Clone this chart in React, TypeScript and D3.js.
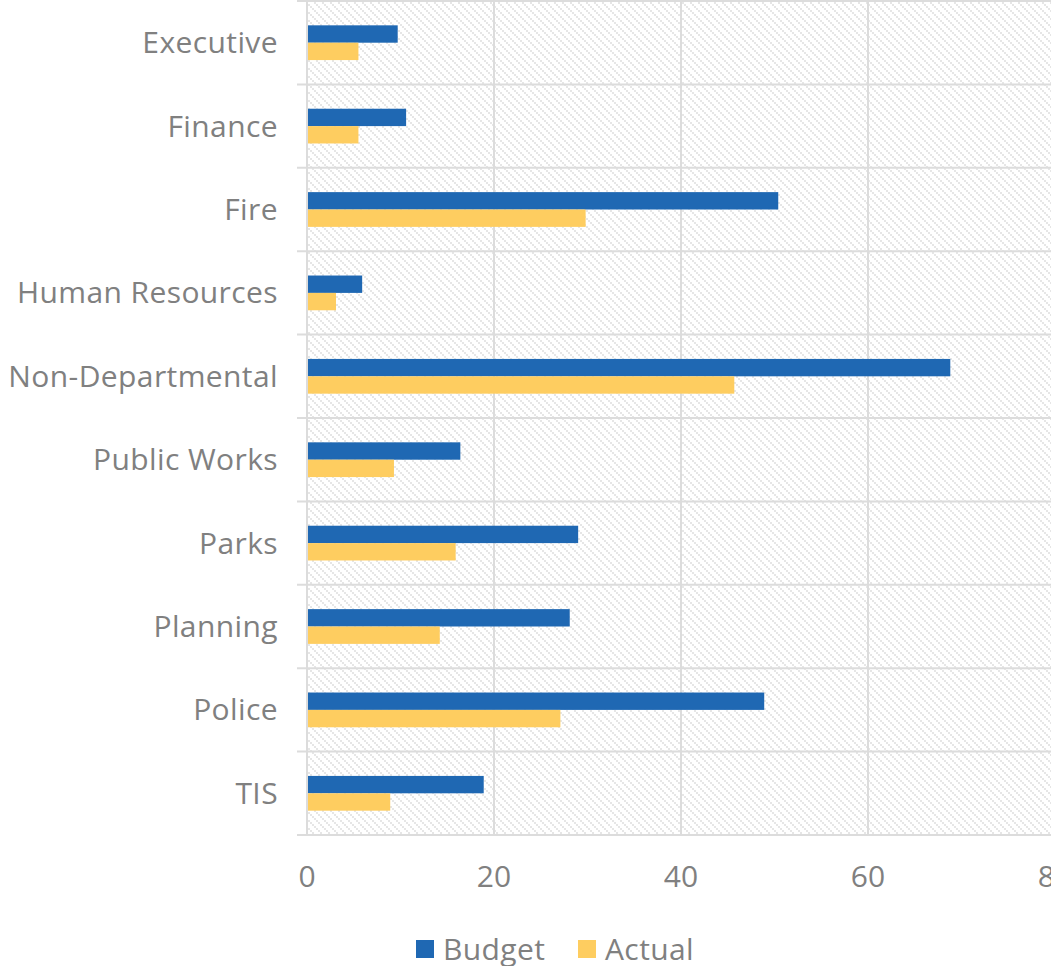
import * as d3 from "d3";
import { useEffect, useRef } from "react";

const WIDTH = 1051;
const HEIGHT = 966;

const departments = [
    "Executive",
    "Finance",
    "Fire",
    "Human Resources",
    "Non-Departmental",
    "Public Works",
    "Parks",
    "Planning",
    "Police",
    "TIS",
];
const budget = [9.7, 10.6, 50.4, 5.9, 68.8, 16.4, 29.0, 28.1, 48.9, 18.9];
const actual = [5.5, 5.5, 29.8, 3.1, 45.7, 9.3, 15.9, 14.2, 27.1, 8.9];
const xTicks = [0, 20, 40, 60, 80];
const seriesNames = ["Budget", "Actual"];
const seriesColors = ["#1f68b3", "#fecd60"];

const FONT = "'Open Sans', Lato, sans-serif";
const TEXT = "#808080";
const GRID = "#dcdcdc";
const FONT_SIZE = 30;
const SPACING = 0.4;

export default function App() {
    const svgRef = useRef<SVGSVGElement | null>(null);

    useEffect(() => {
        if (!svgRef.current) return;
        const svg = d3.select(svgRef.current);
        svg.selectAll("*").remove();

        const margin = { top: 1, left: 307, bottom: 835 };
        const x = d3.scaleLinear().domain([0, 80]).range([margin.left, 1055]);
        const y = d3.scaleBand<string>().domain(departments).range([margin.top, margin.bottom]);
        const inner = d3.scaleBand<number>().domain([0, 1]).range([0, y.bandwidth()]).paddingInner(0).paddingOuter(1.4);

        // hatch pattern
        const defs = svg.append("defs");
        const pat = defs
            .append("pattern")
            .attr("id", "hatch")
            .attr("patternUnits", "userSpaceOnUse")
            .attr("width", 8)
            .attr("height", 8);
        [0, 2, 4, 6].forEach((o) => {
            pat.append("rect").attr("x", o).attr("y", o).attr("width", 2).attr("height", 2).attr("fill", "#e6e6e6");
        });

        svg.append("rect")
            .attr("x", margin.left)
            .attr("y", margin.top)
            .attr("width", WIDTH - margin.left)
            .attr("height", margin.bottom - margin.top)
            .attr("fill", "url(#hatch)");

        // gridlines
        const bounds = [...departments.map((d) => y(d) ?? 0), margin.bottom];
        svg.append("g")
            .selectAll("line")
            .data(bounds)
            .enter()
            .append("line")
            .attr("x1", 297)
            .attr("x2", WIDTH)
            .attr("y1", (d) => d)
            .attr("y2", (d) => d)
            .attr("stroke", GRID)
            .attr("stroke-width", 2);

        svg.append("g")
            .selectAll("line")
            .data(xTicks)
            .enter()
            .append("line")
            .attr("x1", (d) => x(d))
            .attr("x2", (d) => x(d))
            .attr("y1", margin.top)
            .attr("y2", margin.bottom)
            .attr("stroke", GRID)
            .attr("stroke-width", 2);

        // bars
        const rows = svg
            .append("g")
            .selectAll("g")
            .data(departments)
            .enter()
            .append("g")
            .attr("transform", (d) => `translate(0,${y(d)})`);

        rows.selectAll("rect")
            .data((_, i) => [budget[i], actual[i]])
            .enter()
            .append("rect")
            .attr("x", x(0) + 1)
            .attr("y", (_, j) => inner(j) ?? 0)
            .attr("width", (v) => x(v) - x(0) - 1)
            .attr("height", inner.bandwidth())
            .attr("fill", (_, j) => seriesColors[j]);

        // category labels
        svg.append("g")
            .selectAll("text")
            .data(departments)
            .enter()
            .append("text")
            .attr("x", 278)
            .attr("y", (d) => (y(d) ?? 0) + y.bandwidth() / 2)
            .attr("dy", "0.35em")
            .attr("text-anchor", "end")
            .attr("font-family", FONT)
            .attr("font-size", FONT_SIZE)
            .attr("letter-spacing", SPACING)
            .attr("fill", TEXT)
            .text((d) => d);

        // x tick labels
        svg.append("g")
            .selectAll("text")
            .data(xTicks)
            .enter()
            .append("text")
            .attr("x", (d) => x(d))
            .attr("y", 876)
            .attr("dy", "0.35em")
            .attr("text-anchor", "middle")
            .attr("font-family", FONT)
            .attr("font-size", FONT_SIZE)
            .attr("fill", TEXT)
            .text((d) => d);

        // legend
        const legendX = [416, 578];
        const legend = svg
            .append("g")
            .selectAll("g")
            .data(seriesNames)
            .enter()
            .append("g")
            .attr("transform", (_, i) => `translate(${legendX[i]},940)`);
        legend
            .append("rect")
            .attr("width", 18)
            .attr("height", 18)
            .attr("fill", (_, i) => seriesColors[i]);
        legend
            .append("text")
            .attr("x", 27)
            .attr("y", 9)
            .attr("dy", "0.35em")
            .attr("font-family", FONT)
            .attr("font-size", FONT_SIZE)
            .attr("letter-spacing", SPACING)
            .attr("fill", TEXT)
            .text((d) => d);
    }, []);

    return (
        <div style={{ position: "fixed", left: 0, top: 0, width: WIDTH, height: HEIGHT, overflow: "hidden" }}>
            <svg ref={svgRef} width={WIDTH} height={HEIGHT} style={{ display: "block", background: "#fff" }} />
        </div>
    );
}
